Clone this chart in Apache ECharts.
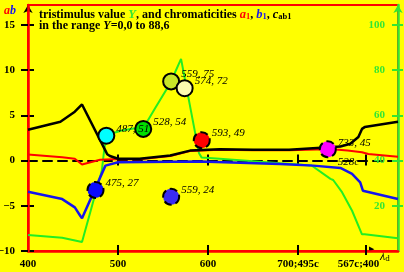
<!DOCTYPE html>
<html lang="en">
<head>
<meta charset="UTF-8">
<title>tristimulus value Y, chromaticities a1, b1, cab1</title>
<script src="https://cdn.jsdelivr.net/npm/echarts@6.0.0/dist/echarts.min.js"></script>
<style>
  html, body { margin: 0; padding: 0; background: #ffff00; }
  #main { width: 404px; height: 272px; }
</style>
</head>
<body>
<div id="main"></div>
<script>
// x: wavelength in nm, past 700 the scale runs on over compensation wavelengths
var xTickValues = [500, 600, 700, 775];
var xLabelValues = [400, 500, 600, 700, 775];
var xLabelText = ['400', '500', '600', '700;495c', '567c;400'];
var leftTicks = [-10, -5, 0, 5, 10, 15];
var rightTicks = [20, 40, 60, 80, 100];

// chroma c_ab1 (black, left axis)
var cX   = [400, 436, 452, 460, 486, 488, 491, 500, 524, 558, 580, 613, 650, 690, 730, 747, 758, 767, 771, 774, 811];
var cVal = [3.4, 4.3, 5.4, 6.2, 1.1, 0.7, 0.5, 0.2, 0.2, 0.55, 1.1, 1.25, 1.2, 1.2, 1.45, 1.55, 1.85, 2.6, 3.5, 3.7, 4.3];

// a1 (red, left axis)
var aX   = [400, 438, 452, 460, 480, 500, 524, 558, 580, 613, 650, 690, 730, 745, 755, 771, 778, 811];
var aVal = [0.67, 0.37, 0.19, -0.44, 0.08, 0.17, 0.15, 0.5, 1.05, 1.2, 1.15, 1.15, 1.25, 1.2, 1.1, 0.92, 0.72, 0.42];

// b1 (blue, left axis)
var bX   = [400, 438, 452, 458, 460, 486, 500, 591, 680, 717, 747, 760, 769, 772, 774, 811];
var bVal = [-3.44, -4.26, -5.18, -6.1, -6.37, -0.56, -0.19, -0.1, -0.37, -0.56, -0.81, -1.48, -2.41, -3.33, -3.44, -4.26];

// tristimulus value Y (green, right axis)
var yX   = [400, 438, 460, 482, 485, 488, 494, 504, 529, 541, 558, 570, 590, 593, 613, 680, 715, 736, 739, 749, 760, 771, 774, 811];
var yVal = [7.1, 5.9, 4.0, 35.6, 46, 50.7, 52.1, 53.3, 55, 63, 74.2, 85, 43.2, 41.3, 40.8, 38.8, 37.8, 31.9, 31.4, 25.9, 17.8, 7.4, 7.4, 5.6];

// sample colours: wavelength, Y
var dotX = [475, 487, 528, 559, 574, 593, 733, 559];
var dotY = [27, 51, 54, 75, 72, 49, 45, 24];
var dotNote = ['', '', '', '', '', '', '528c', ''];

var dotColor  = ['#0a0aff', '#00ffff', '#00e000', '#c8e628', '#fcfcb0', '#ff0000', '#ff00ff', '#3a2cf2'];
var dotBorder = ['dashed', 'solid', 'solid', 'solid', 'solid', 'dashed', 'dashed', 'dashed'];

var serif = 'Liberation Serif';
var green = '#33e633';

function pairs(xs, ys) {
  return xs.map(function (x, i) { return [x, ys[i]]; });
}

function xAx(o) {
  return Object.assign({
    type: 'value', min: 400, max: 811, position: 'bottom',
    splitLine: { show: false },
    axisLabel: { show: false },
    axisTick: { show: false },
    axisLine: { show: false, onZero: false }
  }, o);
}
function yAx(o) {
  return Object.assign({
    type: 'value', min: -10, max: 17.2, position: 'left',
    splitLine: { show: false },
    axisLabel: { show: false },
    axisTick: { show: false },
    axisLine: { show: false, onZero: false }
  }, o);
}

var myChart = echarts.init(document.getElementById('main'));

var dots = dotX.map(function (x, i) {
  var txt = x + ', ' + dotY[i] + (dotNote[i] ? '\n' + dotNote[i] : '');
  return {
    value: [x, dotY[i]],
    itemStyle: { color: dotColor[i], opacity: 1, borderColor: '#000', borderWidth: 2, borderType: dotBorder[i] },
    label: dotNote[i] ? { formatter: txt, lineHeight: 19, offset: [0, 3] } : { formatter: txt }
  };
});

var option = {
  backgroundColor: '#ffff00',
  animation: false,
  grid: {
    left: 28, right: 6, top: 5, bottom: 21,
    show: true, borderColor: '#ff0000', borderWidth: 2,
    backgroundColor: 'transparent',
    outerBoundsMode: 'none'
  },
  xAxis: [
    // bottom red axis with labels, ticks below
    xAx({
      axisLine: { show: true, onZero: false, lineStyle: { color: '#ff0000', width: 2.5 } },
      axisTick: { show: true, customValues: xTickValues, length: 4, lineStyle: { color: '#000', width: 2 } },
      axisLabel: {
        show: true, customValues: xLabelValues, margin: 8,
        color: '#000', fontFamily: serif, fontWeight: 'bold', fontSize: 11,
        formatter: function (v) {
          var i = xLabelValues.indexOf(v);
          if (i === 4) return '{s|' + xLabelText[i] + '}';
          return xLabelText[i];
        },
        rich: { s: { color: '#000', fontFamily: serif, fontWeight: 'bold', fontSize: 11, padding: [0, 14, 0, 0] } }
      }
    }),
    // ticks above bottom line
    xAx({
      axisTick: { show: true, inside: true, customValues: xTickValues, length: 6, lineStyle: { color: '#000', width: 2 } }
    }),
    // dashed zero line
    xAx({
      axisLine: { show: true, onZero: true, onZeroAxisIndex: 0, lineStyle: { color: '#000', width: 2, type: [9, 6] } },
      axisTick: { show: true, customValues: xTickValues, length: 5, lineStyle: { color: '#000', width: 2 } }
    }),
    xAx({
      axisLine: { show: true, onZero: true, onZeroAxisIndex: 0, lineStyle: { color: 'rgba(0,0,0,0)', width: 1 } },
      axisTick: { show: true, inside: true, customValues: xTickValues, length: 6, lineStyle: { color: '#000', width: 2 } }
    })
  ],
  yAxis: [
    // left red axis, labels + outer ticks
    yAx({
      z: 2,
      axisLine: { show: true, onZero: false, lineStyle: { color: '#ff0000', width: 2.5 } },
      axisTick: { show: true, customValues: leftTicks, length: 7, lineStyle: { color: '#000', width: 2 } },
      axisLabel: {
        show: true, customValues: leftTicks, margin: 13,
        color: '#000', fontFamily: serif, fontWeight: 'bold', fontSize: 11,
        formatter: function (v) { return String(v).replace('-', '\u2212'); }
      }
    }),
    // inner ticks + black arrow at top
    yAx({
      z: 1,
      axisLine: { show: true, onZero: false, symbol: ['none', 'arrow'], symbolSize: [7, 8], lineStyle: { color: '#000', width: 1 } },
      axisTick: { show: true, inside: true, customValues: leftTicks, length: 6, lineStyle: { color: '#000', width: 2 } }
    }),
    // right green axis for Y
    yAx({
      min: 0, max: 108.8, position: 'right',
      axisLine: { show: true, onZero: false, symbol: ['none', 'arrow'], symbolSize: [7, 8], lineStyle: { color: green, width: 2.5 } },
      axisTick: { show: true, customValues: rightTicks, length: 5, lineStyle: { color: green, width: 2 } },
      axisLabel: {
        show: true, inside: true, customValues: rightTicks, margin: 13,
        color: green, fontFamily: serif, fontWeight: 'bold', fontSize: 11
      }
    }),
    yAx({
      min: 0, max: 108.8, position: 'right',
      axisTick: { show: true, inside: true, customValues: rightTicks, length: 6, lineStyle: { color: green, width: 2 } }
    })
  ],
  series: [
    {
      name: 'Y', type: 'line', xAxisIndex: 0, yAxisIndex: 2, data: pairs(yX, yVal),
      showSymbol: false, lineStyle: { color: '#22ee22', width: 2 }
    },
    {
      name: 'a1', type: 'line', xAxisIndex: 0, yAxisIndex: 0, data: pairs(aX, aVal),
      showSymbol: false, lineStyle: { color: '#ff0000', width: 2 }
    },
    {
      name: 'b1', type: 'line', xAxisIndex: 0, yAxisIndex: 0, data: pairs(bX, bVal),
      showSymbol: false, lineStyle: { color: '#1515ee', width: 2.5 }
    },
    {
      name: 'cab1', type: 'line', xAxisIndex: 0, yAxisIndex: 0, data: pairs(cX, cVal),
      showSymbol: false, lineStyle: { color: '#000', width: 2.5 }
    },
    {
      name: 'samples', type: 'scatter', xAxisIndex: 0, yAxisIndex: 2, z: 5,
      symbolSize: 16, data: dots,
      itemStyle: { opacity: 1 },
      label: {
        show: true, position: 'right', distance: 1, offset: [0, -7],
        color: '#000', fontFamily: serif, fontStyle: 'italic', fontSize: 11
      }
    }
  ],
  graphic: [
    {
      type: 'text', left: 39, top: 8, z: 10,
      style: {
        text: 'tristimulus value {g|Y}, and chromaticities {r|a}{rs|1}, {b|b}{bs|1}, {k|c}{ks|ab1}\nin the range {i|Y}=0,0 to 88,6',
        fill: '#000', font: 'bold 12px "Liberation Serif"', lineHeight: 11,
        rich: {
          g: { fill: green, font: 'italic bold 12.5px "Liberation Serif"' },
          r: { fill: '#ff0000', font: 'italic bold 12.5px "Liberation Serif"' },
          rs: { fill: '#ff0000', font: 'bold 8.5px "Liberation Serif"', padding: [4, 0, 0, 0] },
          b: { fill: '#1515ee', font: 'italic bold 12.5px "Liberation Serif"' },
          bs: { fill: '#1515ee', font: 'bold 8.5px "Liberation Serif"', padding: [4, 0, 0, 0] },
          k: { fill: '#000', font: 'italic bold 12.5px "Liberation Serif"' },
          ks: { fill: '#000', font: 'bold 8.5px "Liberation Serif"', padding: [4, 0, 0, 0] },
          i: { fill: '#000', font: 'italic bold 12px "Liberation Serif"' }
        }
      }
    },
    {
      type: 'text', left: 4, top: 5,
      style: {
        text: '{a|a}{b|b}',
        rich: {
          a: { fill: '#ff0000', font: 'italic bold 12px "Liberation Serif"' },
          b: { fill: '#1515ee', font: 'italic bold 12px "Liberation Serif"' }
        }
      }
    },
    {
      type: 'text', left: 369, top: 246,
      style: { text: '\u25B6', fill: '#000', font: '7px "DejaVu Sans"' }
    },
    {
      type: 'text', left: 380, top: 251,
      style: {
        text: '{l|\u03BB}{d|d}',
        rich: {
          l: { fill: '#000', font: 'italic 12px "Liberation Serif"' },
          d: { fill: '#000', font: '9px "Liberation Serif"', padding: [4, 0, 0, 0] }
        }
      }
    }
  ]
};

myChart.setOption(option);
</script>
</body>
</html>
